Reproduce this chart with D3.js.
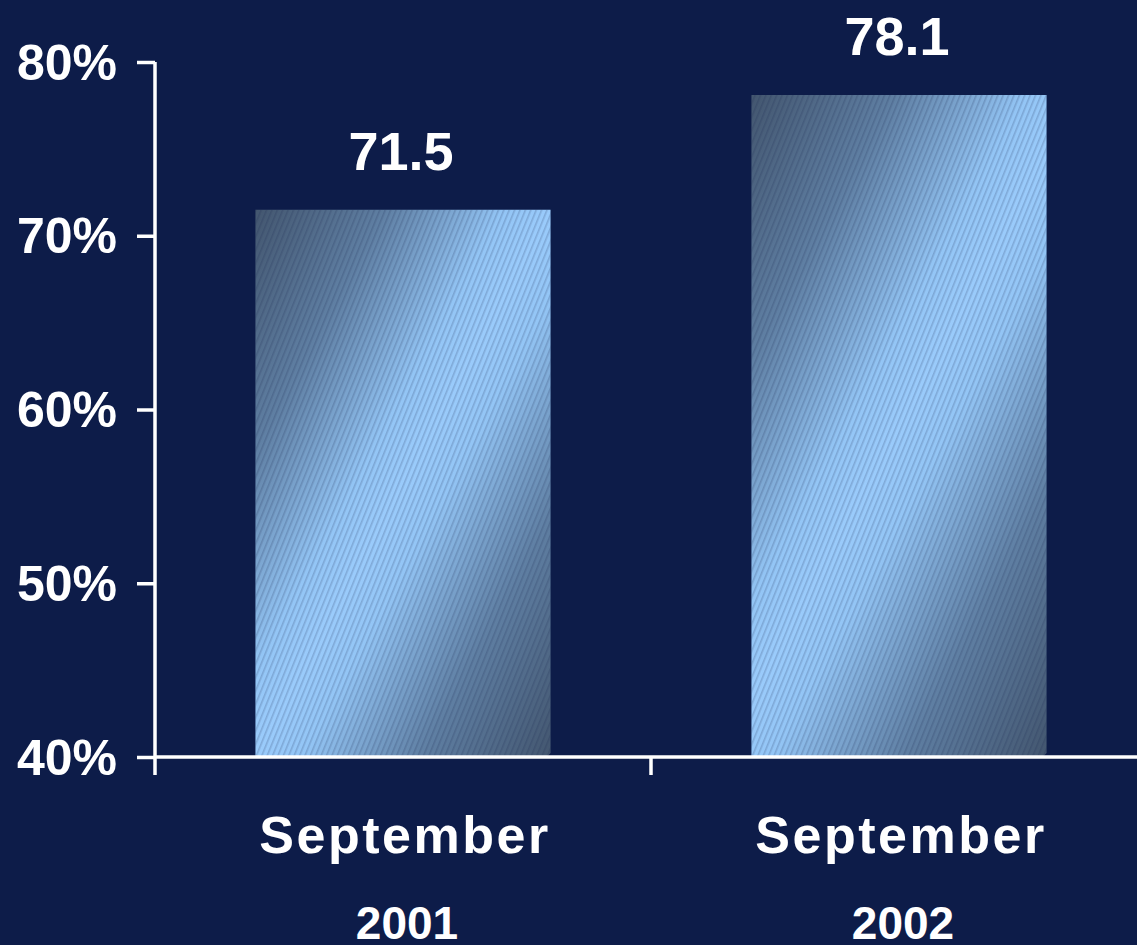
<!DOCTYPE html>
<html>
<head>
<meta charset="utf-8">
<script src="https://cdn.jsdelivr.net/npm/d3@7"></script>
<style>
  html, body { margin: 0; padding: 0; background: #0d1c49; }
  svg { display: block; }
</style>
</head>
<body>
<svg id="chart" width="1137" height="945"></svg>
<script>
// Share reported for September of each year
const months = ["September", "September"];
const years = ["2001", "2002"];
const values = [71.5, 78.1];
const yTicks = [40, 50, 60, 70, 80];
const yTickLabels = ["40%", "50%", "60%", "70%", "80%"];

const svg = d3.select("#chart");
const W = 1137, H = 945;
const plotLeft = 155, plotRight = 1147, plotTop = 62, plotBottom = 757;

svg.append("rect").attr("width", W).attr("height", H).attr("fill", "#0d1c49");

const keys = years.map((yr, i) => i);
const x = d3.scaleBand().domain(keys).range([plotLeft, plotRight]).padding(0);
const y = d3.scaleLinear().domain([40, 80]).range([plotBottom, plotTop]);
const barW = x.bandwidth() * 0.595;

const defs = svg.append("defs");
const shadeStops = [[0, "#43566f"], [0.22, "#5f7fa3"], [0.42, "#93c5f5"], [0.5, "#9acbfb"],
                    [0.58, "#93c5f5"], [0.78, "#5f7fa3"], [1, "#43566f"]];
// sheen direction (normal to the light band)
const nLen = Math.hypot(1.85, 1);
const nx = 1.85 / nLen, ny = 1 / nLen;

const hatch = defs.append("pattern")
  .attr("id", "hatch")
  .attr("patternUnits", "userSpaceOnUse")
  .attr("width", 5).attr("height", 5)
  .attr("patternTransform", "rotate(22)");
hatch.append("rect").attr("width", 1.6).attr("height", 5)
  .attr("fill", "#1a2a50").attr("opacity", 0.2);

const barPath = (x0, y0, w, h) => {
  const c = 4;
  return `M${x0},${y0}H${x0 + w}V${y0 + h - c}L${x0 + w - c},${y0 + h}H${x0}Z`;
};

const bars = svg.append("g");
keys.forEach(i => {
  const bx = x(i) + (x.bandwidth() - barW) / 2;
  const by = y(values[i]);
  const bh = y(40) - by;
  const L = barW * nx + bh * ny;
  const g = defs.append("linearGradient")
    .attr("id", `barGrad${i}`)
    .attr("gradientUnits", "userSpaceOnUse")
    .attr("x1", bx).attr("y1", by)
    .attr("x2", bx + nx * L).attr("y2", by + ny * L);
  shadeStops.forEach(([o, c]) => g.append("stop").attr("offset", o).attr("stop-color", c));
  bars.append("path").attr("d", barPath(bx, by, barW, bh)).attr("fill", `url(#barGrad${i})`);
  bars.append("path").attr("d", barPath(bx, by, barW, bh)).attr("fill", "url(#hatch)");
});

const font = "'Liberation Sans', Arial, sans-serif";

// value labels
svg.append("g").selectAll("text").data(keys).join("text")
  .attr("x", i => x(i) + x.bandwidth() / 2 - 2)
  .attr("y", i => y(values[i]) - 40)
  .attr("text-anchor", "middle")
  .attr("font-family", font).attr("font-weight", "bold").attr("font-size", 54)
  .attr("fill", "#ffffff")
  .text(i => values[i].toFixed(1));

// y axis
const yAxis = d3.axisLeft(y).tickValues(yTicks)
  .tickFormat((d, i) => yTickLabels[i]).tickSize(18).tickPadding(20);
const gy = svg.append("g").attr("transform", `translate(${plotLeft},0)`).call(yAxis);
gy.select(".domain").remove();
gy.selectAll(".tick line").attr("stroke", "#ffffff").attr("stroke-width", 3.5);
gy.selectAll(".tick text")
  .attr("fill", "#ffffff").attr("font-family", font).attr("font-weight", "bold")
  .attr("font-size", 50).attr("dy", "0.34em");
svg.append("line").attr("x1", plotLeft).attr("x2", plotLeft).attr("y1", plotTop).attr("y2", 775)
  .attr("stroke", "#ffffff").attr("stroke-width", 3.5);

// x axis
svg.append("line").attr("x1", plotLeft).attr("x2", W).attr("y1", plotBottom).attr("y2", plotBottom)
  .attr("stroke", "#ffffff").attr("stroke-width", 3.5);
svg.append("g").selectAll("line").data([x(1)]).join("line")
  .attr("x1", d => d).attr("x2", d => d).attr("y1", plotBottom).attr("y2", 775)
  .attr("stroke", "#ffffff").attr("stroke-width", 3.5);

const labels = svg.append("g")
  .attr("fill", "#ffffff").attr("font-family", font).attr("font-weight", "bold")
  .attr("text-anchor", "middle");
labels.selectAll("text.m").data(keys).join("text").attr("class", "m")
  .attr("x", i => x(i) + x.bandwidth() / 2 + 2)
  .attr("y", 853)
  .attr("font-size", 52).attr("letter-spacing", 2.5)
  .text(i => months[i]);
labels.selectAll("text.yr").data(keys).join("text").attr("class", "yr")
  .attr("x", i => x(i) + x.bandwidth() / 2 + 4)
  .attr("y", 939)
  .attr("font-size", 46)
  .text(i => years[i]);
</script>
</body>
</html>
